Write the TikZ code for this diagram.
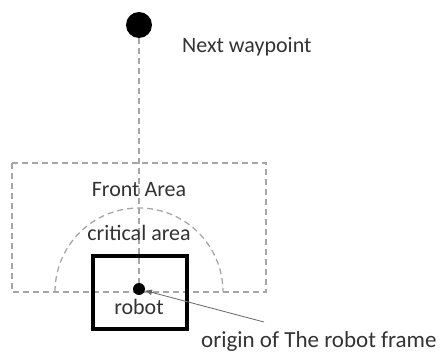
\documentclass[tikz,border=0pt]{standalone}
\usepackage{fontspec}
\setmainfont{Carlito}
\usetikzlibrary{arrows.meta}
\tikzstyle{dot}=[circle, fill=black, inner sep=0pt]
\tikzstyle{area}=[dash pattern=on 6pt off 4pt, line width=1.3pt, gray!70]
\tikzstyle{lbl}=[text=black!80, font=\fontsize{22}{26}\selectfont, inner sep=0pt]

\begin{document}
\begin{tikzpicture}[x=1pt, y=-1pt]
    \useasboundingbox (0,0) rectangle (442,355);
% Areas
    \draw[area] (12,163) rectangle (266,292);
    \draw[area] (55,292) arc[start angle=180, end angle=360, radius=84];
% Robot
    \draw[line width=4pt] (93,256) rectangle (187,329);
% Points
    \node[dot, minimum size=26pt] (waypoint) at (139,25) {};
    \node[dot, minimum size=12pt] (origin) at (139,289) {};
    \draw[area] (waypoint) -- (origin);
% Labels
    \node[lbl, anchor=west] (next) at (182,47) {Next waypoint};
    \node[lbl] (front) at (139,190) {Front Area};
    \node[lbl] (critical) at (139,233) {critical area};
    \node[lbl] (robot) at (139,307) {robot};
    \node[lbl, anchor=west, font=\fontsize{23}{27}\selectfont] (frame) at (201,341) {origin of The robot frame};
% Pointer
    \coordinate (tail) at (264,322);
    \draw[gray!80!black, line width=0.8pt, -{Latex[length=7pt, width=6pt]}] (tail) -- (origin);
\end{tikzpicture}
\end{document}
